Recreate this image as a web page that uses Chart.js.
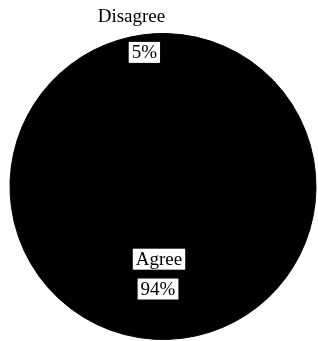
<!DOCTYPE html>
<html>
<head>
<meta charset="utf-8">
<script src="https://cdn.jsdelivr.net/npm/chart.js@4.4.0/dist/chart.umd.min.js"></script>
<style>
  html, body { margin: 0; padding: 0; background: #fff; }
  #wrap { width: 318px; height: 341px; }
</style>
</head>
<body>
<div id="wrap"><canvas id="pie"></canvas></div>
<script>
const labels = ['Disagree', 'Agree'];
const values = [5, 94];
const pctLabels = ['5%', '94%'];

const font = '19px "Liberation Serif", "DejaVu Serif", serif';

let boxText = (ctx, text, x, y) => {
  ctx.font = font;
  const w = ctx.measureText(text).width + 6;
  const h = 21;
  ctx.fillStyle = '#fff';
  ctx.fillRect(x - w / 2, y - h / 2, w, h);
  ctx.fillStyle = '#000';
  ctx.fillText(text, x, y + 1);
}

const pieLabels = {
  id: 'pieLabels',
  afterDatasetsDraw(chart) {
    const ctx = chart.ctx;
    const arcs = chart.getDatasetMeta(0).data;
    ctx.save();
    ctx.textAlign = 'center';
    ctx.textBaseline = 'middle';
    ctx.font = font;

    // Disagree: name outside the rim, percent just inside
    const a = arcs[0];
    const mid = (a.startAngle + a.endAngle) / 2;
    const r = a.outerRadius;
    ctx.fillStyle = '#000';
    ctx.fillText(labels[0], a.x + Math.cos(mid) * (r + 18) - 8, a.y + Math.sin(mid) * (r + 18));
    boxText(ctx, pctLabels[0], a.x + Math.cos(mid) * r * 0.885, a.y + Math.sin(mid) * r * 0.885);

    // Agree: both boxes below the centre
    const b = arcs[1];
    boxText(ctx, labels[1], b.x - 4, b.y + r * 0.475);
    boxText(ctx, pctLabels[1], b.x - 5, b.y + r * 0.67);
    ctx.restore();
  }
};

const chart = new Chart(document.getElementById('pie'), {
  type: 'pie',
  data: {
    labels: labels,
    datasets: [{
      data: values,
      backgroundColor: ['#000', '#000'],
      borderColor: '#000',
      borderWidth: 1
    }]
  },
  options: {
    responsive: true,
    maintainAspectRatio: false,
    animation: false,
    rotation: -17,
    layout: { padding: { top: 33, left: 9, right: 1, bottom: 1 } },
    plugins: {
      legend: { display: false },
      tooltip: { enabled: false }
    }
  },
  plugins: [pieLabels]
});
</script>
</body>
</html>
